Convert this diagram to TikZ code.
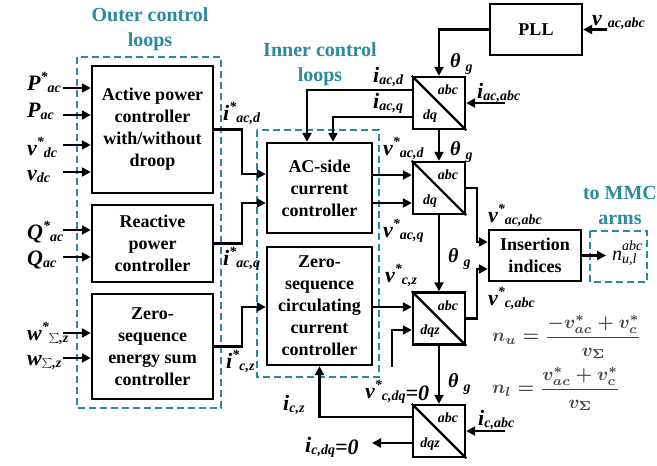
\documentclass[tikz,border=0pt]{standalone}
\usepackage[no-math]{fontspec}
\setmainfont{Liberation Serif}
\usepackage{graphicx}
\usetikzlibrary{arrows.meta,calc}
\definecolor{tealc}{RGB}{42,138,158}
\definecolor{frm}{RGB}{70,70,70}
\newcommand{\bigf}{\fontsize{22}{22}\selectfont}
\newcommand{\midf}{\fontsize{20}{20}\selectfont}
\newcommand{\smf}{\fontsize{14}{14}\selectfont}
\newcommand{\SL}[3]{{\bfseries\itshape\bigf #1\raisebox{9pt}{\smf #2}\raisebox{-2pt}{\smf #3}}}
\newcommand{\SN}[2]{{\bfseries\itshape\bigf #1\raisebox{-2pt}{\smf #2}}}
\newcommand{\TG}{{\bfseries\itshape\midf θ\hspace{5pt}\raisebox{-4pt}{\smf g}}}
\begin{document}
\begin{tikzpicture}[x=1pt,y=-1pt,
  box/.style={draw, line width=2.4pt, align=center, inner sep=0pt,
    font=\fontsize{18}{22}\selectfont\bfseries},
  tf/.style={draw, line width=2.4pt, minimum width=52pt, minimum height=52pt, inner sep=0pt},
  arr/.style={line width=2.4pt, -{Triangle[length=9pt,width=9pt]}},
  dsh/.style={draw=tealc, line width=1.3pt, dash pattern=on 7pt off 4pt},
  ttl/.style={text=tealc, align=center, font=\fontsize{20}{25}\selectfont\bfseries},
  lbl/.style={inner sep=0pt, anchor=base west},
  tl/.style={inner sep=0pt, font=\fontsize{14}{14}\selectfont\bfseries\itshape},
  fml/.style={anchor=west, text=frm, inner sep=0pt}
]
\useasboundingbox (0,0) rectangle (657,466);

% dashed groups
\draw[dsh] (77,57) rectangle (221,408);
\draw[dsh] (257,130) rectangle (379,377);
\draw[dsh] (590,231) rectangle (647,282);

% titles
\node[ttl] (t1) at (150,29.5) {Outer control\\loops};
\node[ttl] (t2) at (320,64.5) {Inner control\\loops};
\node[ttl] (t3) at (620,205.5) {to MMC\\arms};

% boxes
\node[box, minimum width=121pt, minimum height=127pt] (ap) at (152.5,129.5) {Active power\\controller\\with/without\\droop};
\node[box, minimum width=121pt, minimum height=77pt] (rp) at (152.5,243.5) {Reactive\\power\\controller};
\node[box, minimum width=121pt, minimum height=105pt] (es) at (152.5,346.5) {Zero-\\sequence\\energy sum\\controller};
\node[box, minimum width=105pt, minimum height=90pt] (acc) at (319.5,188) {AC-side\\current\\controller};
\node[box, minimum width=105pt, minimum height=118pt] (zcc) at (319.5,306) {Zero-\\sequence\\circulating\\current\\controller};
\node[box, minimum width=92pt, minimum height=51pt] (pll) at (536,29.5) {PLL};
\node[box, minimum width=92pt, minimum height=51pt] (ins) at (535,255.5) {Insertion\\indices};

% transforms
\node[tf] (T1) at (439,103) {};
\node[tf] (T2) at (439,188) {};
\node[tf] (T3) at (439,318.5) {};
\node[tf] (T4) at (439,431) {};
\foreach \T/\lo in {T1/dq,T2/dq,T3/dqz,T4/dqz}{
  \draw[line width=2.4pt] (\T.north west) -- (\T.south east);
  \node[tl] at ($(\T.center)+(9,-13)$) {abc};
  \node[tl] at ($(\T.center)+(-9,13)$) {\lo};
}

% coordinates
\coordinate (cv) at (607,29.5);
\coordinate (ci1) at (505,103);
\coordinate (c1) at (307,90);
\coordinate (c2) at (333,117);
\coordinate (c3) at (242,174);
\coordinate (c5) at (242,203);
\coordinate (c7) at (242,307);
\coordinate (c9) at (0,175);
\coordinate (c10) at (0,203);
\coordinate (c12) at (477,242);
\coordinate (c13) at (477,269);
\coordinate (c14) at (0,307);
\coordinate (c15) at (392,367);
\coordinate (c15b) at (0,330);
\coordinate (c16) at (0,417);
\coordinate (c17) at (372,443);
\coordinate (ci4) at (505,431);
\coordinate (c19) at (606,255.5);

% input arrows left
\foreach \y/\n in {88/a,115/b,145/c,172/d}{
  \coordinate (in\n) at (63,\y);
  \draw[arr] (in\n) -- (ap.west |- in\n);
}
\foreach \y/\n in {230/e,257/f}{
  \coordinate (in\n) at (63,\y);
  \draw[arr] (in\n) -- (rp.west |- in\n);
}
\foreach \y/\n in {333/g,358/h}{
  \coordinate (in\n) at (63,\y);
  \draw[arr] (in\n) -- (es.west |- in\n);
}

% connectors
\draw[arr] (ap.east) -| (c3) -- (acc.west |- c3);
\draw[arr] (rp.east) -| (c5) -- (acc.west |- c5);
\draw[arr] (es.east) -| (c7) -- (zcc.west |- c7);
\draw[arr] (cv) -- (pll.east);
\draw[arr] (pll.west) -| (T1.north);
\draw[arr] (ci1) -- (T1.east);
\draw[arr] (T1.west |- c1) -- (c1) -- (c1 |- acc.north);
\draw[arr] (T1.west |- c2) -- (c2) -- (c2 |- acc.north);
\draw[arr] (T1.south) -- (T2.north);
\draw[arr] (T2.south) -- (T3.north);
\draw[arr] (T3.south) -- (T4.north);
\draw[arr] (acc.east |- c9) -- (T2.west |- c9);
\draw[arr] (acc.east |- c10) -- (T2.west |- c10);
\draw[arr] (T2.east) -| (c12) -- (ins.west |- c12);
\draw[arr] (T3.east) -| (c13) -- (ins.west |- c13);
\draw[arr] (zcc.east |- c14) -- (T3.west |- c14);
\draw[arr] (c15) |- (T3.west |- c15b);
\draw[arr] (T4.west |- c16) -| (zcc.south);
\draw[arr] (T4.west |- c17) -- (c17);
\draw[arr] (ci4) -- (T4.east);
\draw[arr] (ins.east) -- (c19);

% left labels
\node[lbl] (lPs) at (27,90) {\SL{P}{*}{ac}};
\node[lbl] (lP) at (27,117) {\SN{P}{ac}};
\node[lbl] (lvs) at (27,155) {\SL{v}{*}{dc}};
\node[lbl] (lv) at (27,180) {\SN{v}{dc}};
\node[lbl] (lQs) at (27,239) {\SL{Q}{*}{ac}};
\node[lbl] (lQ) at (27,265) {\SN{Q}{ac}};
\node[lbl] (lws) at (27,340) {\SL{w}{*}{$\sum$,z}};
\node[lbl] (lw) at (27,365) {\SN{w}{$\sum$,z}};

% middle labels
\node[lbl] at (223,120) {\SL{i}{*}{ac,d}};
\node[lbl] at (223,265) {\SL{i}{*}{ac,q}};
\node[lbl] at (226,368) {\SL{i}{*}{c,z}};
\node[lbl] at (373,82) {\SN{i}{ac,d}};
\node[lbl] at (373,108) {\SN{i}{ac,q}};
\node[lbl] at (477,98) {\SN{i}{ac,abc}};
\node[lbl] at (592,25) {{\bfseries\itshape\bigf v\hspace{6pt}\raisebox{-2pt}{\smf ac,abc}}};
\node[lbl] at (450,67) {\TG};
\node[lbl] at (450,155) {\TG};
\node[lbl] at (448,262) {\TG};
\node[lbl] at (448,387) {\TG};
\node[lbl] at (383,155) {\SL{v}{*}{ac,d}};
\node[lbl] at (383,237) {\SL{v}{*}{ac,q}};
\node[lbl] at (488,222) {\SL{v}{*}{ac,abc}};
\node[lbl] at (385,282) {\SL{v}{*}{c,z}};
\node[lbl] at (488,305) {\SL{v}{*}{c,abc}};
\node[lbl] at (365,398) {\SL{v}{*}{c,dq{\bigf =0}}};
\node[lbl] at (283,410) {\SN{i}{c,z}};
\node[lbl] at (305,452) {\SN{i}{c,dq{\bigf =0}}};
\node[lbl] at (478,425) {\SN{i}{c,abc}};
\node[lbl] at (612,260) {{\itshape\fontsize{20}{20}\selectfont n\raisebox{10pt}{\rlap{\smf abc}}\raisebox{-3pt}{\smf u,l}}};

% formulas
\node[fml] (fu) at (492,337) {\scalebox{1.86}{\boldmath$\displaystyle n_u = \frac{-v_{ac}^{*}+v_c^{*}}{v_{\mathbf{\Sigma}}}$}};
\node[fml] (fl) at (492,389) {\scalebox{1.86}{\boldmath$\displaystyle n_l = \frac{v_{ac}^{*}+v_c^{*}}{v_{\mathbf{\Sigma}}}$}};
\end{tikzpicture}
\end{document}
